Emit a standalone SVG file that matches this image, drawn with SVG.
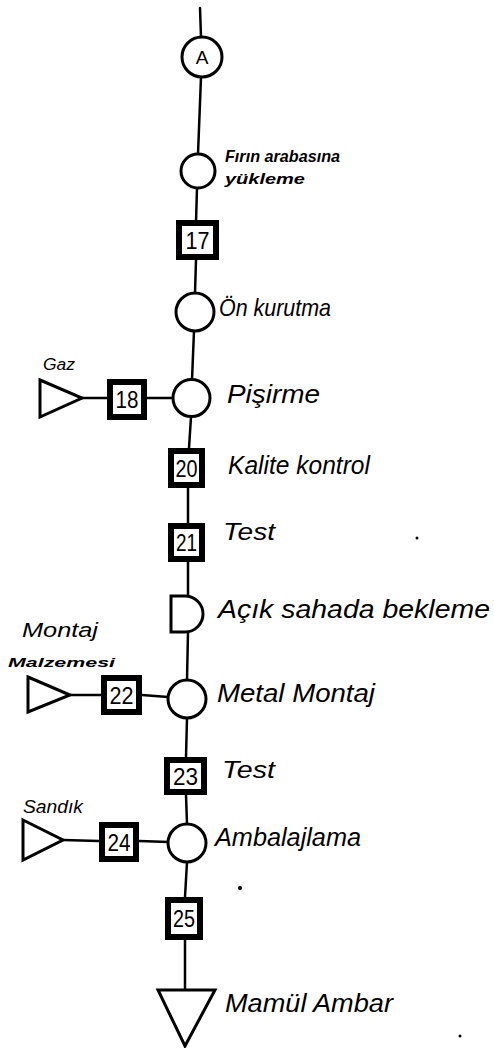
<svg xmlns="http://www.w3.org/2000/svg" width="494" height="1048" viewBox="0 0 494 1048">
<style>
.ln{stroke:#000;stroke-width:2.5;fill:none;stroke-linecap:round}
.sh{stroke:#000;stroke-width:3;fill:#fff}
.bx{stroke:#000;stroke-width:6;fill:#fff}
.num{font-family:"Liberation Sans Narrow","Liberation Sans",sans-serif;font-size:24px;text-anchor:middle;fill:#000}
.lb{font-family:"Liberation Sans",sans-serif;font-style:italic;fill:#000}
</style>
<rect width="494" height="1048" fill="#fff"/>
<g id="connectors">
<path class="ln" d="M200 8L201 37M201 77L198 154M197 188L196 222M196 260L195 293M194 331L192 380M191 417L189 448M188 488L188 523M188 562L188 596M188 632L187 680M187 718L186 757M186 795L187 824M187 862L185 897M185 940L185 990"/>
<path class="ln" d="M82 398H107M147 398H173M70 695H101M142 695L168 697M63 840L99 841M139 841L169 842"/>
</g>
<g id="nA"><circle class="sh" cx="202" cy="57" r="20"/><text x="202" y="64" class="lb" style="font-style:normal;font-size:19px" text-anchor="middle">A</text></g>
<g id="n1"><circle class="sh" cx="198" cy="171" r="17"/><text class="lb" x="225" y="162" font-size="17" font-weight="bold" textLength="115" lengthAdjust="spacingAndGlyphs">Fırın arabasına</text><text class="lb" x="225" y="184" font-size="14" font-weight="bold" textLength="80" lengthAdjust="spacingAndGlyphs">yükleme</text></g>
<g id="b17"><rect class="bx" x="179" y="223" width="37" height="34"/><text class="num" x="197.5" y="249" textLength="24" lengthAdjust="spacingAndGlyphs">17</text></g>
<g id="n2"><circle class="sh" cx="195" cy="312" r="19"/><text class="lb" x="219" y="316" font-size="24" textLength="112" lengthAdjust="spacingAndGlyphs">Ön kurutma</text></g>
<g id="gaz"><polygon class="sh" points="40,380 82,398 40,417"/><text class="lb" x="43" y="370" font-size="16" textLength="32" lengthAdjust="spacingAndGlyphs">Gaz</text></g>
<g id="b18"><rect class="bx" x="110" y="382" width="34" height="35"/><text class="num" x="127" y="408" textLength="23" lengthAdjust="spacingAndGlyphs">18</text></g>
<g id="n3"><circle class="sh" cx="191.5" cy="398" r="18.5"/><text class="lb" x="227" y="403" font-size="25" textLength="93" lengthAdjust="spacingAndGlyphs">Pişirme</text></g>
<g id="b20"><rect class="bx" x="171" y="451" width="31" height="34"/><text class="num" x="186.5" y="477" textLength="22" lengthAdjust="spacingAndGlyphs">20</text><text class="lb" x="228" y="474" font-size="25" textLength="142" lengthAdjust="spacingAndGlyphs">Kalite kontrol</text></g>
<g id="b21"><rect class="bx" x="171" y="526" width="31" height="33"/><text class="num" x="186.5" y="551" textLength="21" lengthAdjust="spacingAndGlyphs">21</text><text class="lb" x="223" y="540" font-size="24" textLength="52" lengthAdjust="spacingAndGlyphs">Test</text></g>
<g id="d1"><path class="sh" d="M171 596H185A18 18 0 0 1 185 632H171Z"/><text class="lb" x="218" y="618" font-size="25" textLength="272" lengthAdjust="spacingAndGlyphs">Açık sahada bekleme</text></g>
<g id="montaj"><polygon class="sh" points="28,677 70,695 28,712"/><text class="lb" x="22" y="637" font-size="20" textLength="76" lengthAdjust="spacingAndGlyphs">Montaj</text><text class="lb" x="8" y="667" font-size="12" font-weight="bold" textLength="107" lengthAdjust="spacingAndGlyphs">Malzemesi</text></g>
<g id="b22"><rect class="bx" x="104" y="678" width="35" height="34"/><text class="num" x="121.5" y="704" textLength="24" lengthAdjust="spacingAndGlyphs">22</text></g>
<g id="n4"><circle class="sh" cx="187" cy="699" r="19"/><text class="lb" x="217" y="702" font-size="26" textLength="158" lengthAdjust="spacingAndGlyphs">Metal Montaj</text></g>
<g id="b23"><rect class="bx" x="167" y="760" width="37" height="32"/><text class="num" x="185.5" y="785" textLength="25" lengthAdjust="spacingAndGlyphs">23</text><text class="lb" x="222" y="778" font-size="24" textLength="53" lengthAdjust="spacingAndGlyphs">Test</text></g>
<g id="sandik"><polygon class="sh" points="23,820 63,840 23,860"/><text class="lb" x="23" y="813" font-size="18" textLength="60" lengthAdjust="spacingAndGlyphs">Sandık</text></g>
<g id="b24"><rect class="bx" x="102" y="825" width="34" height="34"/><text class="num" x="119" y="851" textLength="23" lengthAdjust="spacingAndGlyphs">24</text></g>
<g id="n5"><circle class="sh" cx="187" cy="843" r="19"/><text class="lb" x="215" y="846" font-size="25" textLength="146" lengthAdjust="spacingAndGlyphs">Ambalajlama</text></g>
<g id="b25"><rect class="bx" x="168" y="900" width="32" height="37"/><text class="num" x="184" y="927" textLength="22" lengthAdjust="spacingAndGlyphs">25</text></g>
<g id="sink"><polygon class="sh" points="158,990 215,990 185,1046"/><text class="lb" x="225" y="1012" font-size="25" textLength="168" lengthAdjust="spacingAndGlyphs">Mamül Ambar</text></g>
<g id="dots" fill="#000"><circle cx="417" cy="538" r="1.5"/><circle cx="240" cy="888" r="2"/><circle cx="460" cy="1036" r="1.5"/></g>
</svg>
